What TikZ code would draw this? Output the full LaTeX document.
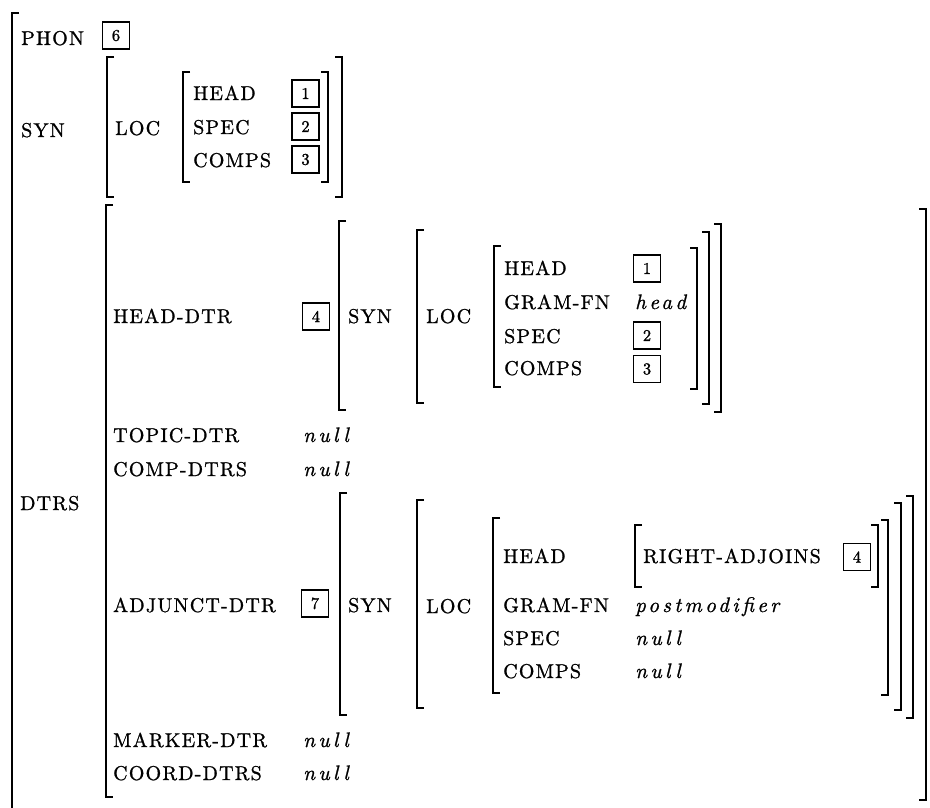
\documentclass[tikz,border=0pt]{standalone}
\usepackage{fontspec}
\setmainfont{lmroman10}[Extension=.otf, UprightFont=*-regular, ItalicFont=*-italic, LetterSpace=6, FakeBold=1.0]
\newfontfamily\valfont{lmroman10}[Extension=.otf, UprightFont=*-italic, LetterSpace=16, FakeBold=1.0]
\newfontfamily\tagfont{lmroman10}[Extension=.otf, UprightFont=*-regular, FakeBold=1.2]
\tikzset{
  lbl/.style={anchor=base west, inner sep=0pt, font=\fontsize{20}{22}\selectfont},
  val/.style={anchor=base west, inner sep=0pt, font=\valfont\fontsize{21}{23}\selectfont},
  tag/.style={draw, line width=1.4pt, minimum width=27pt, minimum height=27pt, inner sep=0pt, font=\tagfont\fontsize{16.5}{16.5}\selectfont},
  brk/.style={line width=1.8pt, line join=miter},
}
\newcommand{\avmL}[3]{\draw[brk] (#1+7,#2) -- (#1,#2) -- (#1,#3) -- (#1+7,#3);}
\newcommand{\avmR}[3]{\draw[brk] (#1-7,#2) -- (#1,#2) -- (#1,#3) -- (#1-7,#3);}
\begin{document}
\begin{tikzpicture}[x=1pt,y=-1pt]
\useasboundingbox (0,0) rectangle (930,808);
% outer bracket
\draw[brk] (19,13) -- (12,13) -- (12,812);
% PHON
\node[lbl] (phon) at (21,45) {PHON};
\node[tag] (t6) at (116,35.5) {6};
% SYN
\node[lbl] (syn) at (21,137) {SYN};
\avmL{107}{57}{197}
\node[lbl] (loc) at (115,135) {LOC};
\avmL{183}{72}{182}
\node[lbl] (shead) at (193,100) {HEAD};
\node[lbl] (sspec) at (193,134) {SPEC};
\node[lbl] (scomps) at (193,167) {COMPS};
\node[tag] (s1) at (305.5,93.5) {1};
\node[tag] (s2) at (305.5,126.5) {2};
\node[tag] (s3) at (305.5,159.5) {3};
\avmR{328}{72}{182}
\avmR{342}{57}{197}
% DTRS
\node[lbl] (dtrs) at (20,510) {DTRS};
\avmL{106}{205}{797}
\avmR{926}{209}{800}
% HEAD-DTR
\node[lbl] (hdtr) at (113,323) {HEAD-DTR};
\node[tag] (h4) at (316,316.5) {4};
\avmL{339}{221}{410}
\node[lbl] (hsyn) at (348,323) {SYN};
\avmL{417}{230}{403}
\node[lbl] (hloc) at (426,323) {LOC};
\avmL{494}{246}{387}
\node[lbl] (hhead) at (504,275) {HEAD};
\node[lbl] (hgram) at (504,309) {GRAM-FN};
\node[lbl] (hspec) at (504,343) {SPEC};
\node[lbl] (hcomps) at (504,375) {COMPS};
\node[tag] (h1) at (647,268.5) {1};
\node[val] (hv) at (635,309) {head};
\node[tag] (h2) at (647,335.5) {2};
\node[tag] (h3) at (647,369) {3};
\avmR{697}{248}{389}
\avmR{709}{232}{404}
\avmR{721}{224}{412}
% TOPIC / COMP
\node[lbl] (topic) at (113,442) {TOPIC-DTR};
\node[val] (topicv) at (303,442) {null};
\node[lbl] (comp) at (113,476) {COMP-DTRS};
\node[val] (compv) at (303,476) {null};
% ADJUNCT-DTR
\node[lbl] (adtr) at (113,612) {ADJUNCT-DTR};
\node[tag] (a7) at (315,603.5) {7};
\avmL{340}{493}{715}
\node[lbl] (asyn) at (348,612) {SYN};
\avmL{417}{500}{708}
\node[lbl] (aloc) at (426,613) {LOC};
\avmL{493}{518}{693}
\node[lbl] (ahead) at (503,563) {HEAD};
\avmL{635}{525}{587}
\node[lbl] (radj) at (643,563) {RIGHT-ADJOINS};
\node[tag] (a4) at (857,557) {4};
\avmR{878}{525}{587}
\node[lbl] (agram) at (503,612) {GRAM-FN};
\node[val] (agramv) at (635,612) {postmodifier};
\node[lbl] (aspec) at (503,645) {SPEC};
\node[val] (aspecv) at (635,645) {null};
\node[lbl] (acomps) at (503,678) {COMPS};
\node[val] (acompsv) at (635,678) {null};
\avmR{888}{520}{695}
\avmR{901}{503}{710}
\avmR{913}{496}{718}
% MARKER / COORD
\node[lbl] (marker) at (113,747) {MARKER-DTR};
\node[val] (markerv) at (303,747) {null};
\node[lbl] (coord) at (113,780) {COORD-DTRS};
\node[val] (coordv) at (303,780) {null};
\end{tikzpicture}
\end{document}
